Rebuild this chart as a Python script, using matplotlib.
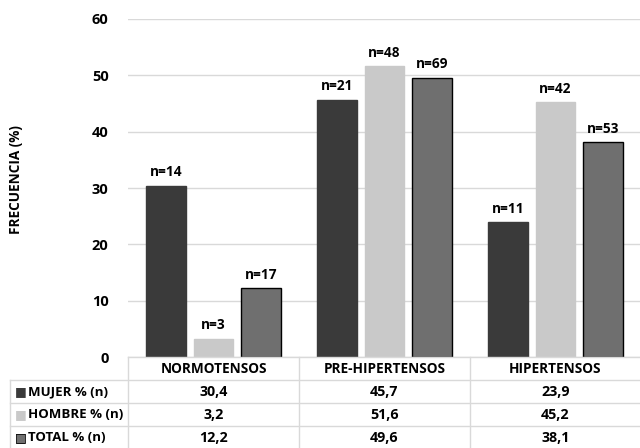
import matplotlib.pyplot as plt
from matplotlib.lines import Line2D
from matplotlib.transforms import blended_transform_factory
import numpy as np

plt.rcParams['font.family'] = ['Open Sans', 'DejaVu Sans']
plt.rcParams['font.weight'] = 'bold'

categorias = ["NORMOTENSOS", "PRE-HIPERTENSOS", "HIPERTENSOS"]
series = ["MUJER % (n)", "HOMBRE % (n)", "TOTAL % (n)"]
mujer = [30.4, 45.7, 23.9]
hombre = [3.2, 51.6, 45.2]
total = [12.2, 49.6, 38.1]
n_mujer = [14, 21, 11]
n_hombre = [3, 48, 42]
n_total = [17, 69, 53]
tabla = [["30,4", "45,7", "23,9"],
         ["3,2", "51,6", "45,2"],
         ["12,2", "49,6", "38,1"]]

colores = ["#3a3a3a", "#c9c9c9", "#6f6f6f"]
bordes = ["#3a3a3a", "#c9c9c9", "black"]

W, H = 640, 448
fig = plt.figure(figsize=(6.4, 4.48), dpi=100)
ax = fig.add_axes([128 / W, 1 - 357 / H, (641 - 128) / W, (357 - 19) / H])

x = np.arange(len(categorias))
ancho = 0.23
desp = 0.278
for i, (vals, ns) in enumerate(zip([mujer, hombre, total], [n_mujer, n_hombre, n_total])):
    pos = x + (i - 1) * desp
    ax.bar(pos, vals, ancho, color=colores[i], edgecolor=bordes[i], linewidth=1, zorder=3)
    for p, v, n in zip(pos, vals, ns):
        ax.text(p, v + 1.2, "n=%d" % n, ha="center", va="bottom", fontsize=9.8, fontweight="bold")

ax.set_xlim(-0.5, 2.5)
ax.set_ylim(0, 60)
ax.set_yticks(range(0, 61, 10))
ax.set_xticks([])
ax.tick_params(axis="y", length=0, pad=14, labelsize=10.5)
for t in ax.get_yticklabels():
    t.set_fontweight("bold")
ax.yaxis.grid(True, color="#d9d9d9", linewidth=1, zorder=0)
for s in ax.spines.values():
    s.set_visible(False)
fig.text(16 / W, 1 - 180 / H, "FRECUENCIA (%)", rotation=90, ha="center", va="center",
         fontsize=9.8, fontweight="bold")

# tabla de datos
gris = "#d9d9d9"
tr = blended_transform_factory(ax.transData, fig.transFigure)
filas = [357, 380, 403, 426, 449]
fy = [1 - f / H for f in filas]

def linea(xs, ys, transform):
    fig.add_artist(Line2D(xs, ys, color=gris, linewidth=1, transform=transform))

linea([-0.5, 2.5], [fy[0], fy[0]], tr)
for f in fy[1:4]:
    linea([10 / W, 1], [f, f], fig.transFigure)
for b in [-0.5, 0.5, 1.5, 2.5]:
    linea([b, b], [fy[0], 0], tr)
linea([10 / W, 10 / W], [fy[1], 0], fig.transFigure)

for c, nombre in enumerate(categorias):
    fig.text(c, (fy[0] + fy[1]) / 2, nombre, transform=tr, ha="center", va="center",
             fontsize=9.8, fontweight="bold")
for r in range(3):
    yc = (fy[r + 1] + fy[r + 2]) / 2
    fig.text(15 / W, yc, "■", color=colores[r], ha="left", va="center", fontsize=9,
             family="DejaVu Sans")
    if r == 2:
        fig.text(15 / W, yc, "□", color="black", ha="left", va="center", fontsize=9,
                 family="DejaVu Sans")
    fig.text(28 / W, yc, series[r], ha="left", va="center", fontsize=9.5, fontweight="bold")
    for c in range(3):
        fig.text(c, yc, tabla[r][c], transform=tr, ha="center", va="center",
                 fontsize=10.3, fontweight="bold")

fig.savefig("out.png", dpi=100)
